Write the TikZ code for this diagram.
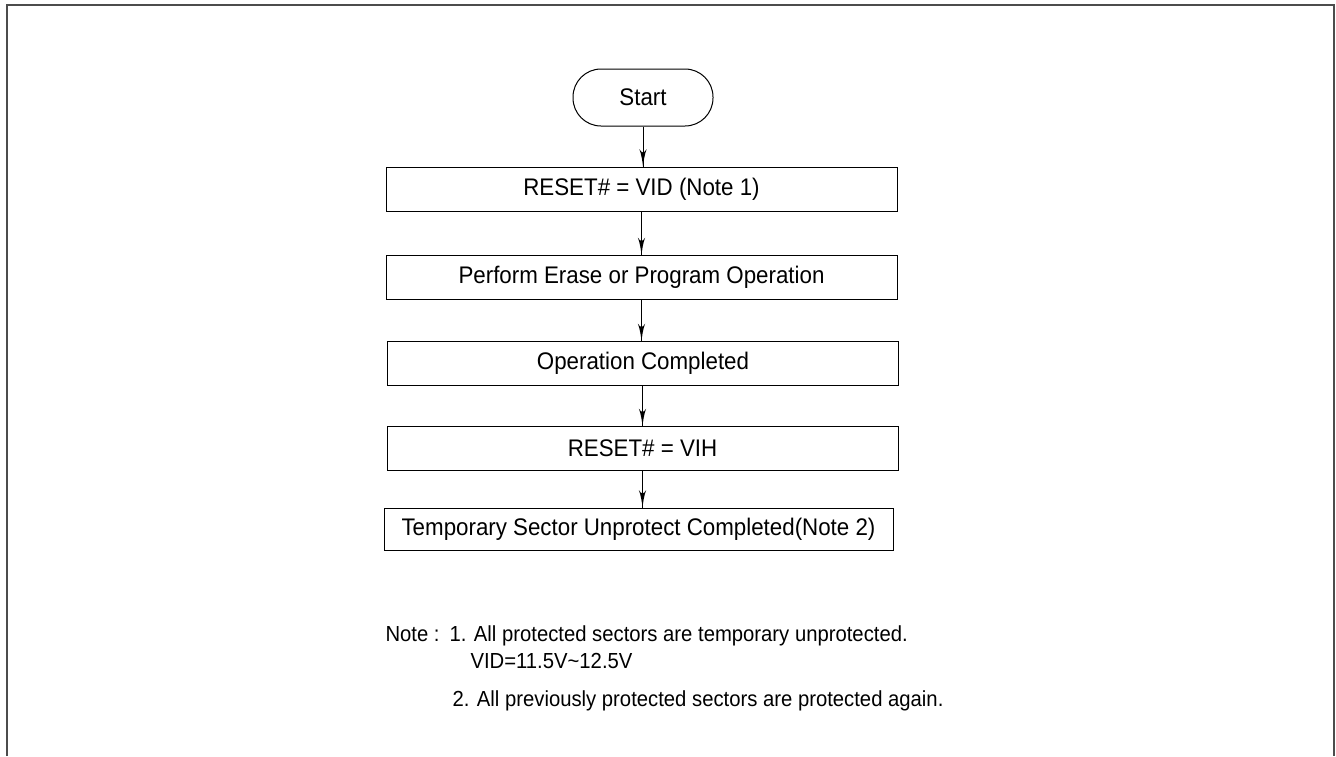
\documentclass[tikz,border=0pt]{standalone}
\usepackage{fontspec}
\setmainfont{Liberation Sans}[FakeStretch=0.93]
\usetikzlibrary{arrows}
\usetikzlibrary{decorations.markings}
\tikzset{->/.style = {decoration={markings,
                                  mark=at position 1 with {\arrow[xscale=3,yscale=1.7]{latex'}}},
                      postaction={decorate}}}
\tikzset{stepbox/.style = {draw, minimum width=511pt, minimum height=44pt, inner sep=0pt,
                           font=\fontsize{24}{28}\selectfont}}
\tikzset{notetext/.style = {anchor=base west, inner sep=0pt, font=\fontsize{21.8}{26}\selectfont}}

\begin{document}
\begin{tikzpicture}[x=1pt, y=-1pt, line width=1pt]
      \useasboundingbox (0,0) rectangle (1336,756);
      \draw [line width=2pt, black!70] (7,756) -- (7,5) -- (1334,5) -- (1334,756);
      \node [draw, rounded corners=28pt, minimum width=140pt, minimum height=57pt,
             inner sep=0pt, font=\fontsize{24}{28}\selectfont] (start) at (643,97.5) {Start};
      \node [stepbox] (vid) at (641.5,189) {RESET\# = VID (Note 1)};
      \node [stepbox] (erase) at (641.5,277.5) {Perform Erase or Program Operation};
      \node [stepbox] (done) at (643,363.5) {Operation Completed};
      \node [stepbox] (vih) at (642.5,448.5) {RESET\# = VIH};
      \node [stepbox, minimum width=509pt, minimum height=42pt] (unprot) at (638.5,529)
            {Temporary Sector Unprotect Completed(Note 2)};
      \draw [->] (start.south) -- (start.south |- vid.north);
      \draw [->] (vid.south) -- (vid.south |- erase.north);
      \draw [->] (erase.south) -- (erase.south |- done.north);
      \draw [->] (done.south -| vih.south) -- (vih.north);
      \draw [->] (vih.south) -- (vih.south |- unprot.north);
      \node [notetext] (note) at (385,641) {Note :};
      \node [notetext] (n1) at (449,641) {1. All protected sectors are temporary unprotected.};
      \node [notetext] (n1b) at (470,668) {VID=11.5V\textasciitilde 12.5V};
      \node [notetext] (n2) at (452,706) {2. All previously protected sectors are protected again.};
    \end{tikzpicture}
\end{document}
